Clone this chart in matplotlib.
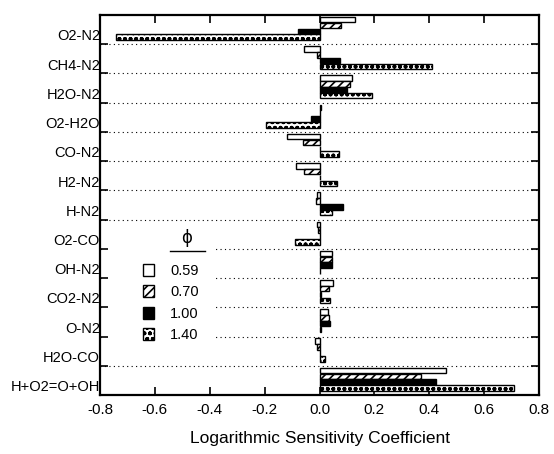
import numpy as np
import matplotlib
matplotlib.use("Agg")
import matplotlib.pyplot as plt
from matplotlib.lines import Line2D
from matplotlib.patches import Rectangle

plt.rcParams['font.family'] = ['Liberation Sans', 'DejaVu Sans']
plt.rcParams['axes.unicode_minus'] = False
plt.rcParams['hatch.linewidth'] = 1.2

categories = ['O2-N2', 'CH4-N2', 'H2O-N2', 'O2-H2O', 'CO-N2', 'H2-N2', 'H-N2',
              'O2-CO', 'OH-N2', 'CO2-N2', 'O-N2', 'H2O-CO', 'H+O2=O+OH']
series_labels = ['0.59', '0.70', '1.00', '1.40']
phi_059 = [0.13, -0.055, 0.12, 0.005, -0.12, -0.085, -0.01, -0.01, 0.045, 0.048, 0.03, -0.015, 0.46]
phi_070 = [0.08, -0.01, 0.11, 0.0, -0.06, -0.055, -0.012, -0.005, 0.045, 0.036, 0.035, -0.01, 0.37]
phi_100 = [-0.08, 0.073, 0.10, -0.03, 0.0, 0.0, 0.085, 0.0, 0.045, 0.005, 0.04, 0.0, 0.425]
phi_140 = [-0.74, 0.41, 0.19, -0.195, 0.07, 0.065, 0.047, -0.088, 0.0, 0.037, 0.005, 0.02, 0.71]
x_ticks = [-0.8, -0.6, -0.4, -0.2, 0.0, 0.2, 0.4, 0.6, 0.8]

series = [phi_059, phi_070, phi_100, phi_140]
styles = [dict(facecolor='white', hatch=None),
          dict(facecolor='white', hatch='////'),
          dict(facecolor='black', hatch=None),
          dict(facecolor='white', hatch='ooo')]

fig = plt.figure(figsize=(5.54, 4.54), dpi=100)
ax = fig.add_axes([100/554, 59/454, 439/554, 380/454])

n = len(categories)
idx = np.arange(n)
offsets = [0.16, 0.36, 0.56, 0.76]
handles = []
for vals, st, off, lab in zip(series, styles, offsets, series_labels):
    b = ax.barh(idx + off, vals, height=0.19, left=0, edgecolor='black',
                linewidth=1.0, label=lab, zorder=2, **st)
    handles.append(b)

# dotted separators
for k in range(1, n):
    ax.axhline(k, color='black', linestyle=(0, (1, 3)), linewidth=0.8, zorder=0)

# white backdrop behind legend (hides dotted lines there)
ax.add_patch(Rectangle((2/439, (395-345)/380), (215-102)/439, (345-228)/380,
                       transform=ax.transAxes, facecolor='white', edgecolor='none', zorder=1))

ax.set_ylim(n, 0)
ax.set_xlim(-0.8, 0.8)
ax.set_xticks(x_ticks)
ax.set_xticklabels([f'{v:.1f}' for v in x_ticks], fontsize=11)
ax.set_yticks(np.arange(1, n))
ax.set_yticklabels([])
ax.set_yticks(idx + 0.68, minor=True)
ax.set_yticklabels(categories, minor=True, fontsize=10.5)
ax.tick_params(axis='y', which='minor', length=0, pad=0)
ax.tick_params(axis='y', which='major', direction='in', length=6, width=1.2, left=True, right=True)
ax.tick_params(axis='x', which='major', direction='in', length=6, width=1.2, top=True, bottom=True, pad=6)
for s in ax.spines.values():
    s.set_linewidth(1.6)

ax.set_xlabel('Logarithmic Sensitivity Coefficient', fontsize=12.5, labelpad=10)

leg = ax.legend(handles=handles, labels=series_labels, loc='upper left',
                bbox_to_anchor=(43/439, (395-264)/380), frameon=False, fontsize=10.5,
                borderpad=0, borderaxespad=0, handlelength=0.75, handleheight=0.9,
                handletextpad=1.1, labelspacing=0.5)
leg.set_zorder(3)
ax.text((187-100)/439, (395-238)/380, 'ϕ', transform=ax.transAxes, ha='center',
        va='center', fontsize=12, family=['DejaVu Sans'], zorder=3)
ax.add_line(Line2D([(170-100)/439, (205-100)/439], [(395-251)/380]*2,
                   transform=ax.transAxes, color='black', linewidth=1.0, zorder=3))

fig.savefig('out.png', dpi=100)
